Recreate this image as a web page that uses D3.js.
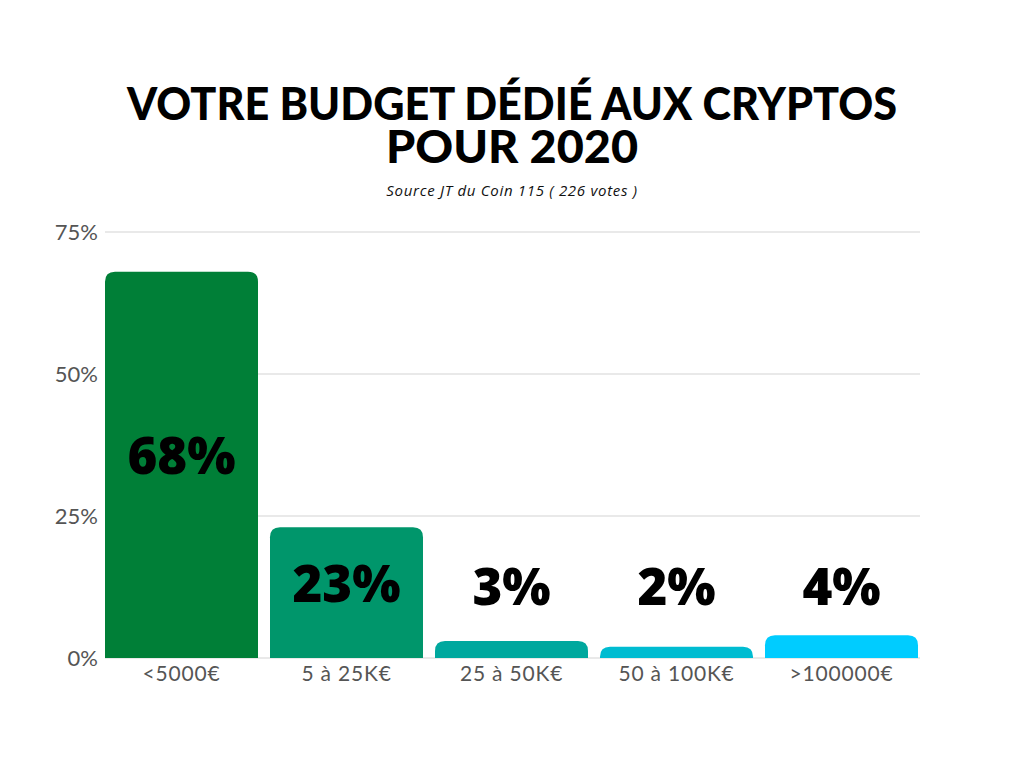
<!DOCTYPE html>
<html><head><meta charset="utf-8">
<script src="https://cdn.jsdelivr.net/npm/d3@7"></script>
<style>body{margin:0;background:#fff}</style>
</head><body>
<svg id="c" width="1024" height="768"></svg>
<script>
const categories = ["<5000€", "5 à 25K€", "25 à 50K€", "50 à 100K€", ">100000€"];
const values = [68, 23, 3, 2, 4];
const valueLabels = ["68%", "23%", "3%", "2%", "4%"];
const colors = ["#007f37", "#00966b", "#00a89e", "#00bcd1", "#00ccff"];
const yTicks = [0, 25, 50, 75];
const titleLines = ["VOTRE BUDGET DÉDIÉ AUX CRYPTOS", "POUR 2020"];
const subtitle = "Source JT du Coin 115 ( 226 votes )";

const svg = d3.select("#c");
const mLeft = 105, mRight = 920, mTop = 232, mBottom = 658;
const x = d3.scaleBand().domain(categories).range([mLeft, 918]).paddingInner(12/165).paddingOuter(0);
const y = d3.scaleLinear().domain([0, 75]).range([mBottom, mTop]);

// title (one wrapped text, two lines)
const titleWidths = [770, 252];
const title = svg.append("text").attr("text-anchor","middle")
  .style("font-family","Lato").style("font-weight","900").style("font-size","46px")
  .attr("fill","#000");
title.selectAll("tspan").data(titleLines).join("tspan")
  .attr("x",512).attr("y",(d,i)=>120+i*43)
  .attr("textLength",(d,i)=>titleWidths[i]).attr("lengthAdjust","spacingAndGlyphs")
  .text(d=>d);
svg.append("text").attr("x",512).attr("y",196).attr("text-anchor","middle")
  .style("font-family","Open Sans").style("font-style","italic").style("font-size","15px")
  .style("letter-spacing","0.7px").attr("fill","#111").text(subtitle);

// grid
svg.append("g").selectAll("line").data(yTicks).join("line")
  .attr("x1",mLeft).attr("x2",mRight).attr("y1",d=>y(d)).attr("y2",d=>y(d))
  .attr("stroke","#e2e2e2").attr("stroke-width",1.5);

// y axis
const yAxis = svg.append("g").attr("transform",`translate(${mLeft},0)`)
  .call(d3.axisLeft(y).tickValues(yTicks).tickFormat(d=>d+"%").tickSize(0).tickPadding(7));
yAxis.select(".domain").remove();
yAxis.selectAll("text").style("font-family","Lato").style("font-size","22px").attr("fill","#555");

// bars
const r = 10;
function barPath(x0, w, yt, yb){
  const h = yb - yt; const rr = Math.min(r, h, w/2);
  return `M${x0},${yb}V${yt+rr}Q${x0},${yt} ${x0+rr},${yt}H${x0+w-rr}Q${x0+w},${yt} ${x0+w},${yt+rr}V${yb}Z`;
}
svg.append("g").selectAll("path").data(values).join("path")
  .attr("d",(d,i)=>barPath(x(categories[i]), x.bandwidth(), y(d), y(0)))
  .attr("fill",(d,i)=>colors[i]);

// x axis
const xAxis = svg.append("g").attr("transform",`translate(0,${mBottom})`)
  .call(d3.axisBottom(x).tickSize(0).tickPadding(8));
xAxis.select(".domain").remove();
xAxis.selectAll("text").style("font-family","Lato").style("font-size","21px")
  .style("letter-spacing","0.8px").attr("fill","#555");

// value labels
svg.append("g").selectAll("text").data(values).join("text")
  .attr("x",(d,i)=>x(categories[i])+x.bandwidth()/2)
  .attr("y",d=>Math.min((y(d)+y(0))/2 - 9, y(0)-71) + 18)
  .attr("text-anchor","middle")
  .style("font-family","Open Sans").style("font-weight","800").style("font-size","51px")
  .attr("fill","#000").text((d,i)=>valueLabels[i]);
</script>
</body></html>
